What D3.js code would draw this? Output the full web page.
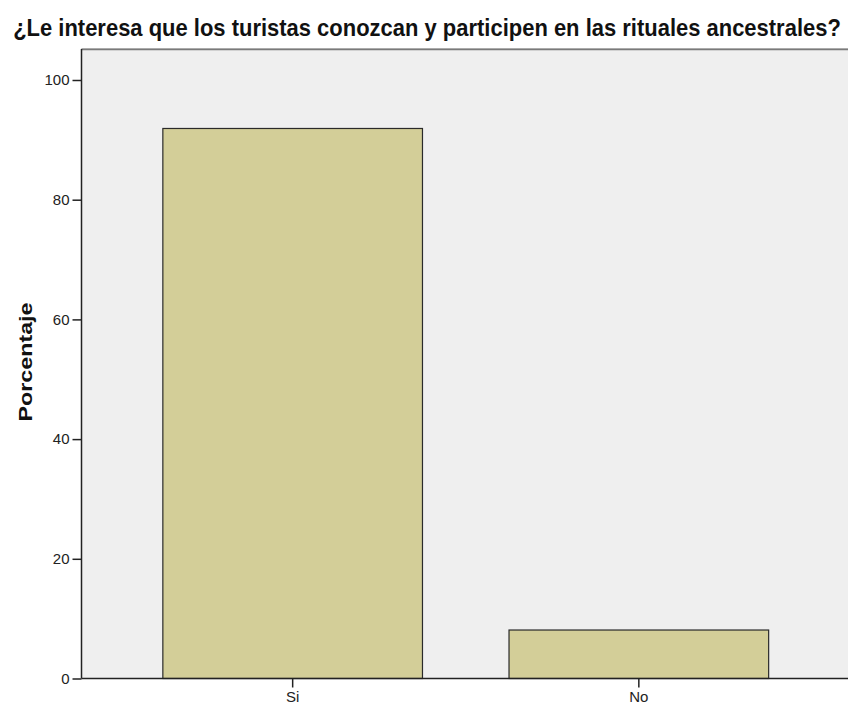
<!DOCTYPE html>
<html>
<head>
<meta charset="utf-8">
<script src="https://cdn.jsdelivr.net/npm/d3@7"></script>
<style>
  html, body { margin: 0; padding: 0; background: #ffffff; }
  svg { display: block; }
</style>
</head>
<body>
<svg id="chart" width="848" height="708"></svg>
<script>
const titleText = "¿Le interesa que los turistas conozcan y participen en las rituales ancestrales?";
const yLabel = "Porcentaje";
const categories = ["Si", "No"];
const percentages = [91.9, 8.1];
const yTicks = [0, 20, 40, 60, 80, 100];

const svg = d3.select("#chart");
const plotLeft = 81.5, plotRight = 850, plotTop = 49, zeroY = 678.5, hundredY = 80;

const y = d3.scaleLinear().domain([0, 100]).range([zeroY, hundredY]);
const x = d3.scaleBand().domain(categories).range([plotLeft, plotRight])
  .paddingInner(0.25).paddingOuter(0.235);

// panel
svg.append("rect").attr("x", plotLeft).attr("y", plotTop).attr("width", 848 - plotLeft)
  .attr("height", zeroY - plotTop).attr("fill", "#efefef");
svg.append("line").attr("x1", plotLeft).attr("x2", 848).attr("y1", plotTop - 0.5).attr("y2", plotTop - 0.5)
  .attr("stroke", "#bdbdbd").attr("stroke-width", 1);
svg.append("line").attr("x1", plotLeft).attr("x2", 848).attr("y1", plotTop + 0.5).attr("y2", plotTop + 0.5)
  .attr("stroke", "#7a7a7a").attr("stroke-width", 1.5);

// bars
svg.append("g").selectAll("rect").data(categories).join("rect")
  .attr("x", d => x(d))
  .attr("y", (d, i) => y(percentages[i]))
  .attr("width", x.bandwidth())
  .attr("height", (d, i) => zeroY - y(percentages[i]))
  .attr("fill", "#d3ce98")
  .attr("stroke", "#2a2a2a")
  .attr("stroke-width", 1.2);

const tickFont = "'Liberation Sans Narrow', 'Liberation Sans', Arial, sans-serif";

// y axis
const yAxis = svg.append("g").attr("transform", `translate(${plotLeft},0)`)
  .call(d3.axisLeft(y).tickValues(yTicks).tickSize(9).tickPadding(3).tickFormat(d3.format("d")));
yAxis.select(".domain").attr("d", `M0,${plotTop}V${zeroY}`).attr("stroke", "#222").attr("stroke-width", 1.5);
yAxis.selectAll(".tick line").attr("stroke", "#222").attr("stroke-width", 1.5);
yAxis.selectAll(".tick text").attr("font-family", tickFont)
  .attr("font-size", 15).attr("fill", "#222");

// x axis
const xAxis = svg.append("g").attr("transform", `translate(0,${zeroY})`)
  .call(d3.axisBottom(x).tickSize(9).tickPadding(4));
xAxis.select(".domain").attr("d", `M${plotLeft},0H848`).attr("stroke", "#222").attr("stroke-width", 1.5);
xAxis.selectAll(".tick line").attr("stroke", "#222").attr("stroke-width", 1.5);
xAxis.selectAll(".tick text").attr("font-family", tickFont)
  .attr("font-size", 15).attr("fill", "#222");

// title (scaled horizontally to fit the width used in the reference)
const title = svg.append("text")
  .attr("text-anchor", "middle")
  .attr("font-family", tickFont)
  .attr("font-weight", "bold").attr("font-size", 23).attr("fill", "#111")
  .text(titleText);
const tw = title.node().getComputedTextLength();
const sx = Math.min(1, 828 / tw);
title.attr("transform", `translate(427,36) scale(${sx},1)`);

// y label
svg.append("text").attr("transform", "translate(32,362) rotate(-90)")
  .attr("text-anchor", "middle")
  .attr("font-family", "'Liberation Sans', Arial, sans-serif")
  .attr("font-weight", "bold").attr("font-size", 18).attr("fill", "#111")
  .attr("textLength", 119).attr("lengthAdjust", "spacingAndGlyphs")
  .text(yLabel);
</script>
</body>
</html>
